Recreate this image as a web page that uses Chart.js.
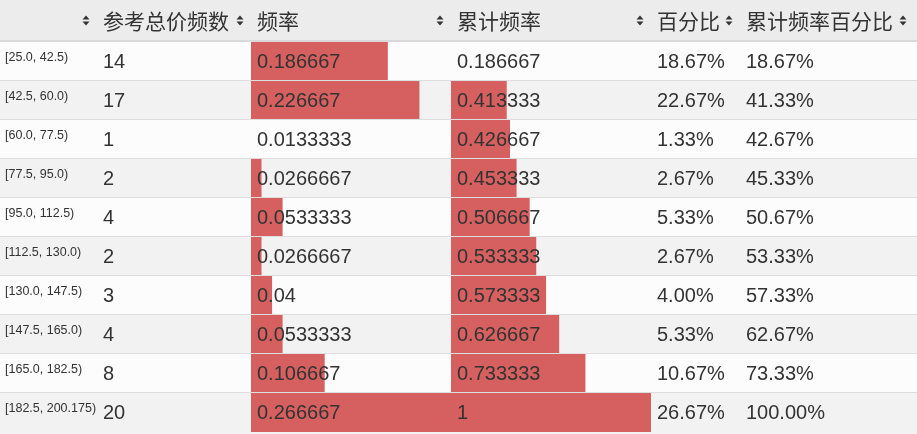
<!DOCTYPE html>
<html>
<head>
<meta charset="utf-8">
<script src="https://cdn.jsdelivr.net/npm/chart.js@4.4.1/dist/chart.umd.min.js"></script>
<style>
  html, body { margin: 0; padding: 0; background: #fff; }
  #wrap { width: 917px; height: 434px; }
</style>
</head>
<body>
<div id="wrap"><canvas id="freq-table" width="917" height="434"></canvas></div>
<script>
// frequency table of 参考总价, styled like a pandas Styler.bar table
const bins    = ['[25.0, 42.5)','[42.5, 60.0)','[60.0, 77.5)','[77.5, 95.0)','[95.0, 112.5)',
                 '[112.5, 130.0)','[130.0, 147.5)','[147.5, 165.0)','[165.0, 182.5)','[182.5, 200.175)'];
const counts  = [14, 17, 1, 2, 4, 2, 3, 4, 8, 20];
const freq    = [0.186667, 0.226667, 0.0133333, 0.0266667, 0.0533333, 0.0266667, 0.04, 0.0533333, 0.106667, 0.266667];
const cumFreq = [0.186667, 0.413333, 0.426667, 0.453333, 0.506667, 0.533333, 0.573333, 0.626667, 0.733333, 1];
const headers = ['', '参考总价频数', '频率', '累计频率', '百分比', '累计频率百分比'];

// column layout (px): left edge and right edge of each cell
const cols = [
    { x: 0,   r: 97  },
    { x: 97,  r: 251 },
    { x: 251, r: 451 },
    { x: 451, r: 651 },
    { x: 651, r: 740 },
    { x: 740, r: 914 }
];
const W = 917, H = 434, HEAD = 42, ROW = 39;
const BAR = '#d65f5f', TXT = '#333333';
const NUM_FONT = '20px "Liberation Sans", "Noto Sans CJK SC", sans-serif';
const IDX_FONT = '12.5px "Liberation Sans", "Noto Sans CJK SC", sans-serif';
const HEAD_FONT = '21px "Noto Sans CJK SC", "Liberation Sans", sans-serif';

function fmtNum(v) {
    let s = v.toPrecision(6);
    if (s.indexOf('.') >= 0) s = s.replace(/0+$/, '').replace(/\.$/, '');
    return s;
}
function fmtPct(v) { return (v * 100).toFixed(2) + '%'; }

// a linear x scale that puts [vmin, vmax] on the pixels of one column
function colScale(values, col) {
    const lo = Math.min(...values), hi = Math.max(...values);
    const perPx = (hi - lo) / (col.r - col.x);
    return { type: 'linear', display: false, min: lo - col.x * perPx, max: lo + (W - col.x) * perPx };
}

function sortArrow(ctx, cx, cy) {
    ctx.beginPath();
    ctx.moveTo(cx - 3.5, cy - 1); ctx.lineTo(cx + 3.5, cy - 1); ctx.lineTo(cx, cy - 5); ctx.closePath();
    ctx.moveTo(cx - 3.5, cy + 1); ctx.lineTo(cx + 3.5, cy + 1); ctx.lineTo(cx, cy + 5); ctx.closePath();
    ctx.fill();
}

const tablePlugin = {
    id: 'tablePlugin',
    beforeDatasetsDraw(chart) {
        const ctx = chart.ctx, y = chart.scales.y;
        ctx.save();
        ctx.fillStyle = '#ececec';
        ctx.fillRect(0, 0, W, HEAD - 2);
        ctx.fillStyle = '#d9d9d9';
        ctx.fillRect(0, HEAD - 2, W, 2);
        bins.forEach((b, i) => {
            const c = y.getPixelForValue(i);
            const last = i === bins.length - 1;
            ctx.fillStyle = i % 2 === 0 ? '#fcfcfc' : '#f2f2f2';
            ctx.fillRect(0, c - ROW / 2, W, last ? H - (c - ROW / 2) : ROW);
        });
        ctx.restore();
    },
    afterDatasetsDraw(chart) {
        const ctx = chart.ctx, y = chart.scales.y;
        ctx.save();
        // row borders (the last row runs off the bottom of the view)
        ctx.fillStyle = '#dedede';
        bins.forEach((b, i) => {
            if (i === bins.length - 1) return;
            const c = y.getPixelForValue(i);
            ctx.fillRect(0, c + ROW / 2 - 1, W, 1);
        });
        // header
        ctx.fillStyle = TXT;
        ctx.font = HEAD_FONT;
        ctx.textBaseline = 'middle';
        headers.forEach((h, j) => {
            if (h) ctx.fillText(h, cols[j].x + 6, 21);
            sortArrow(ctx, cols[j].r - 11, 20.5);
        });
        // body
        bins.forEach((b, i) => {
            const c = y.getPixelForValue(i);
            ctx.font = IDX_FONT;
            ctx.fillText(b, 5, c - 3.5);
            ctx.font = NUM_FONT;
            const cells = [String(counts[i]), fmtNum(freq[i]), fmtNum(cumFreq[i]), fmtPct(freq[i]), fmtPct(cumFreq[i])];
            cells.forEach((t, j) => ctx.fillText(t, cols[j + 1].x + 6, c + 1));
        });
        ctx.restore();
    }
};

const fMin = Math.min(...freq), cMin = Math.min(...cumFreq);
const barStyle = { backgroundColor: BAR, barPercentage: 1, categoryPercentage: 1, grouped: false,
                   borderWidth: 0, borderSkipped: false, inflateAmount: 0 };

new Chart(document.getElementById('freq-table').getContext('2d'), {
    type: 'bar',
    data: {
        labels: bins,
        datasets: [
            Object.assign({ label: '频率',     data: freq.map(v => [fMin, v]),    xAxisID: 'xf' }, barStyle),
            Object.assign({ label: '累计频率', data: cumFreq.map(v => [cMin, v]), xAxisID: 'xc' }, barStyle)
        ]
    },
    options: {
        indexAxis: 'y',
        responsive: false,
        animation: false,
        devicePixelRatio: 1,
        layout: { padding: { top: HEAD, bottom: H - HEAD - ROW * bins.length, left: 0, right: 0 } },
        plugins: { legend: { display: false }, tooltip: { enabled: false } },
        scales: {
            y:  { type: 'category', display: false, offset: true, grid: { display: false } },
            xf: colScale(freq, cols[2]),
            xc: colScale(cumFreq, cols[3])
        }
    },
    plugins: [tablePlugin]
});
</script>
</body>
</html>
